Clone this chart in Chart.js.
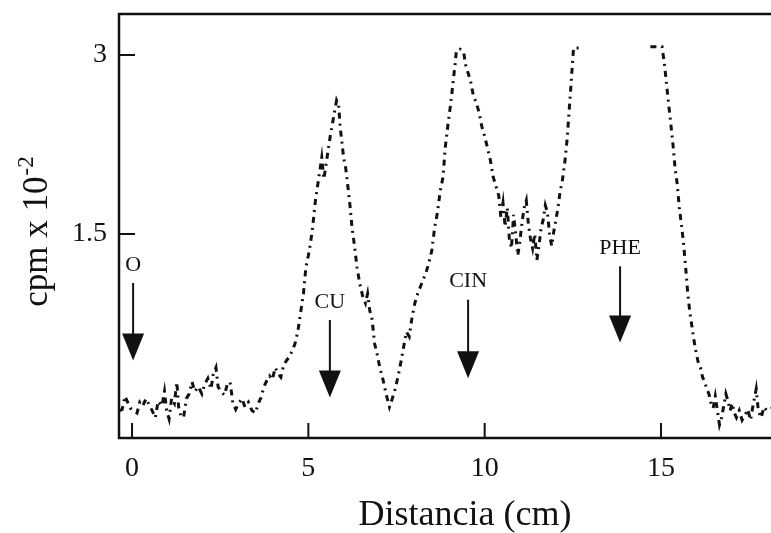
<!DOCTYPE html>
<html lang="es">
<head>
  <meta charset="UTF-8">
  <title>Distancia (cm)</title>
  <script src="https://cdn.jsdelivr.net/npm/chart.js"></script>
  <style>
    html, body { margin: 0; padding: 0; background: #fff; }
    #wrap { width: 771px; height: 533px; }
  </style>
</head>
<body>
<div id="wrap">
  <canvas id="scanChart"></canvas>
</div>

<script>
  // distance along the strip (cm) and counts (cpm x 10^-2); null = trace lost off scale
  const distCm = [
    -0.35, -0.28, -0.20, -0.14, -0.05, 0.05, 0.14, 0.22, 0.30, 0.40, 0.48, 0.57, 0.66, 0.74, 0.85, 0.92,
    0.98, 1.05, 1.12, 1.20, 1.27, 1.32, 1.38, 1.46, 1.54, 1.62, 1.70, 1.78, 1.88, 1.98, 2.06, 2.15,
    2.24, 2.30, 2.38, 2.44, 2.52, 2.62, 2.70, 2.78, 2.86, 2.94, 3.02, 3.12, 3.20, 3.30, 3.40, 3.50,
    3.58, 3.66, 3.74, 3.82, 3.90, 3.98, 4.06, 4.14, 4.22, 4.30, 4.38, 4.46, 4.54, 4.62, 4.70, 4.78,
    4.86, 4.93, 5.00, 5.06, 5.13, 5.20, 5.26, 5.32, 5.38, 5.44, 5.50, 5.56, 5.62, 5.68, 5.74, 5.80,
    5.86, 5.90, 5.94, 6.00, 6.06, 6.12, 6.18, 6.24, 6.30, 6.38, 6.46, 6.54, 6.62, 6.68, 6.74, 6.80,
    6.88, 6.96, 7.04, 7.10, 7.16, 7.22, 7.30, 7.38, 7.46, 7.54, 7.62, 7.70, 7.78, 7.86, 7.94, 8.02,
    8.10, 8.18, 8.26, 8.34, 8.42, 8.50, 8.58, 8.66, 8.74, 8.82, 8.88, 8.96, 9.04, 9.10, 9.16, 9.20,
    9.30, 9.40, 9.46, 9.52, 9.60, 9.68, 9.76, 9.84, 9.92, 10.00, 10.08, 10.16, 10.24, 10.32, 10.40, 10.46,
    10.52, 10.58, 10.64, 10.70, 10.76, 10.82, 10.88, 10.94, 11.00, 11.06, 11.12, 11.18, 11.24, 11.30, 11.36, 11.42,
    11.48, 11.54, 11.60, 11.66, 11.72, 11.78, 11.84, 11.90, 11.96, 12.02, 12.08, 12.14, 12.20, 12.28, 12.34, 12.40,
    12.46, 12.52, 12.80, 13.70, 14.70, 15.03, 15.10, 15.16, 15.22, 15.28, 15.34, 15.40, 15.46, 15.52, 15.58, 15.64,
    15.70, 15.76, 15.82, 15.88, 15.94, 16.00, 16.06, 16.12, 16.18, 16.24, 16.30, 16.36, 16.42, 16.48, 16.54, 16.60,
    16.66, 16.72, 16.78, 16.84, 16.90, 16.96, 17.02, 17.08, 17.14, 17.22, 17.30, 17.38, 17.46, 17.54, 17.62, 17.70,
    17.76, 17.84, 17.92, 18.00, 18.12
  ];
  const cpm = [
    0.02, 0.03, 0.14, 0.10, 0.04, 0.02, 0.00, 0.09, 0.06, 0.12, 0.07, 0.02, -0.04, 0.10, 0.06, 0.18,
    0.02, -0.05, 0.12, 0.08, 0.26, 0.05, -0.02, -0.04, 0.12, 0.16, 0.26, 0.18, 0.22, 0.16, 0.24, 0.29,
    0.20, 0.32, 0.38, 0.22, 0.18, 0.15, 0.24, 0.26, 0.08, 0.03, 0.08, 0.12, 0.05, 0.09, 0.02, 0.00,
    0.08, 0.13, 0.22, 0.27, 0.31, 0.28, 0.38, 0.33, 0.30, 0.40, 0.44, 0.47, 0.52, 0.58, 0.68, 0.84,
    1.00, 1.22, 1.32, 1.42, 1.58, 1.78, 1.90, 2.02, 2.14, 1.96, 2.08, 2.20, 2.32, 2.42, 2.52, 2.62,
    2.58, 2.40, 2.30, 2.14, 2.05, 1.90, 1.74, 1.55, 1.42, 1.22, 1.08, 0.98, 0.92, 1.00, 0.86, 0.80,
    0.58, 0.48, 0.36, 0.30, 0.22, 0.14, 0.05, 0.12, 0.20, 0.30, 0.42, 0.55, 0.68, 0.64, 0.80, 0.92,
    1.00, 1.06, 1.12, 1.18, 1.26, 1.36, 1.55, 1.68, 1.86, 1.98, 2.22, 2.42, 2.60, 2.76, 2.92, 3.04,
    3.05, 3.03, 2.92, 2.86, 2.78, 2.66, 2.60, 2.52, 2.40, 2.32, 2.22, 2.12, 1.98, 1.90, 1.82, 1.64,
    1.76, 1.56, 1.72, 1.46, 1.38, 1.66, 1.50, 1.32, 1.44, 1.60, 1.72, 1.78, 1.58, 1.46, 1.38, 1.50,
    1.28, 1.40, 1.55, 1.62, 1.74, 1.68, 1.50, 1.40, 1.52, 1.62, 1.72, 1.86, 1.94, 2.12, 2.30, 2.55,
    2.80, 3.06, 3.06, null, 3.07, 3.07, 2.92, 2.75, 2.58, 2.42, 2.25, 2.05, 1.92, 1.72, 1.58, 1.42,
    1.22, 1.00, 0.84, 0.72, 0.60, 0.50, 0.42, 0.38, 0.30, 0.26, 0.20, 0.16, 0.08, 0.04, 0.14, 0.02,
    -0.10, -0.04, 0.06, 0.16, 0.10, 0.02, 0.08, 0.00, -0.04, 0.02, -0.06, -0.02, 0.03, -0.06, 0.08, 0.20,
    0.02, -0.04, 0.05, 0.02, 0.04
  ];

  const xTicks = [0, 5, 10, 15];
  const yTicks = [1.5, 3];

  // spot markers: name, position (cm), label height and arrow tip height (cpm x 10^-2)
  const markerNames = ['O', 'CU', 'CIN', 'PHE'];
  const markerX = [0.03, 5.61, 9.53, 13.84];
  const markerLabelY = [1.24, 0.93, 1.10, 1.38];
  const markerTipY = [0.44, 0.13, 0.29, 0.59];

  const ink = '#111';
  const serif = "'Liberation Serif', 'DejaVu Serif', serif";

  const points = distCm.map((x, i) => ({ x: x, y: cpm[i] }));

  // no extra room for tick label overflow, the box is placed by layout padding
  function noOverflow(scale) {
    scale.paddingTop = 0;
    scale.paddingBottom = 0;
    scale.paddingLeft = 0;
    scale.paddingRight = 0;
  }

  // frame, inward ticks, arrows and axis titles
  const annotations = {
    id: 'annotations',
    afterDraw(chart) {
      const ctx = chart.ctx;
      const area = chart.chartArea;
      const xs = chart.scales.x;
      const ys = chart.scales.y;
      ctx.save();
      ctx.strokeStyle = ink;
      ctx.fillStyle = ink;

      // open frame: left, top, bottom
      ctx.lineWidth = 2.5;
      ctx.beginPath();
      ctx.moveTo(area.right + 2, area.top);
      ctx.lineTo(area.left, area.top);
      ctx.lineTo(area.left, area.bottom);
      ctx.lineTo(area.right + 2, area.bottom);
      ctx.stroke();

      ctx.lineWidth = 2;
      ctx.beginPath();
      xTicks.forEach(v => {
        const px = xs.getPixelForValue(v);
        ctx.moveTo(px, area.bottom);
        ctx.lineTo(px, area.bottom - 15);
      });
      yTicks.forEach(v => {
        const py = ys.getPixelForValue(v);
        ctx.moveTo(area.left, py);
        ctx.lineTo(area.left + 16, py);
      });
      ctx.stroke();

      // arrows with labels
      ctx.textAlign = 'center';
      ctx.textBaseline = 'middle';
      ctx.font = '22px ' + serif;
      markerNames.forEach((name, i) => {
        const px = xs.getPixelForValue(markerX[i]);
        const ly = ys.getPixelForValue(markerLabelY[i]);
        const tip = ys.getPixelForValue(markerTipY[i]);
        ctx.fillText(name, px, ly);
        ctx.lineWidth = 2;
        ctx.beginPath();
        ctx.moveTo(px, ly + 18);
        ctx.lineTo(px, tip - 20);
        ctx.stroke();
        ctx.beginPath();
        ctx.moveTo(px - 11, tip - 27);
        ctx.lineTo(px + 11, tip - 27);
        ctx.lineTo(px, tip);
        ctx.closePath();
        ctx.fill();
      });

      // x title
      ctx.font = '36px ' + serif;
      ctx.textBaseline = 'alphabetic';
      ctx.fillText('Distancia (cm)', 465, 525);

      // y title with superscript exponent
      const base = 'cpm x 10';
      const sup = '-2';
      ctx.font = '35px ' + serif;
      const wBase = ctx.measureText(base).width;
      ctx.font = '23px ' + serif;
      const wSup = ctx.measureText(sup).width;
      ctx.translate(47, 232);
      ctx.rotate(-Math.PI / 2);
      ctx.textAlign = 'left';
      const start = -(wBase + wSup) / 2;
      ctx.font = '35px ' + serif;
      ctx.fillText(base, start, 0);
      ctx.font = '23px ' + serif;
      ctx.fillText(sup, start + wBase + 1, -14);
      ctx.restore();
    }
  };

  const ctx = document.getElementById('scanChart').getContext('2d');
  const scanChart = new Chart(ctx, {
    type: 'line',
    data: {
      datasets: [{
        label: 'cpm',
        data: points,
        borderColor: ink,
        borderWidth: 3,
        borderDash: [6, 5, 2, 5],
        pointRadius: 0,
        tension: 0,
        spanGaps: false,
        fill: false
      }]
    },
    options: {
      responsive: true,
      maintainAspectRatio: false,
      animation: false,
      layout: { padding: { top: 14, left: 0, right: 0, bottom: 0 } },
      scales: {
        x: {
          type: 'linear',
          min: -0.37,
          max: 18.12,
          afterFit: scale => { scale.height = 95; noOverflow(scale); },
          afterBuildTicks: scale => { scale.ticks = xTicks.map(v => ({ value: v })); },
          grid: { display: false, drawTicks: false },
          border: { display: false },
          ticks: {
            padding: 14,
            color: ink,
            font: { family: serif, size: 28 },
            maxRotation: 0,
            callback: v => String(v)
          }
        },
        y: {
          min: -0.21,
          max: 3.344,
          afterFit: scale => { scale.width = 119; noOverflow(scale); },
          afterBuildTicks: scale => { scale.ticks = yTicks.map(v => ({ value: v })); },
          grid: { display: false, drawTicks: false },
          border: { display: false },
          ticks: {
            padding: 12,
            color: ink,
            font: { family: serif, size: 28 },
            callback: v => String(v)
          }
        }
      },
      plugins: {
        legend: { display: false },
        tooltip: { enabled: false }
      }
    },
    plugins: [annotations]
  });
</script>
</body>
</html>
